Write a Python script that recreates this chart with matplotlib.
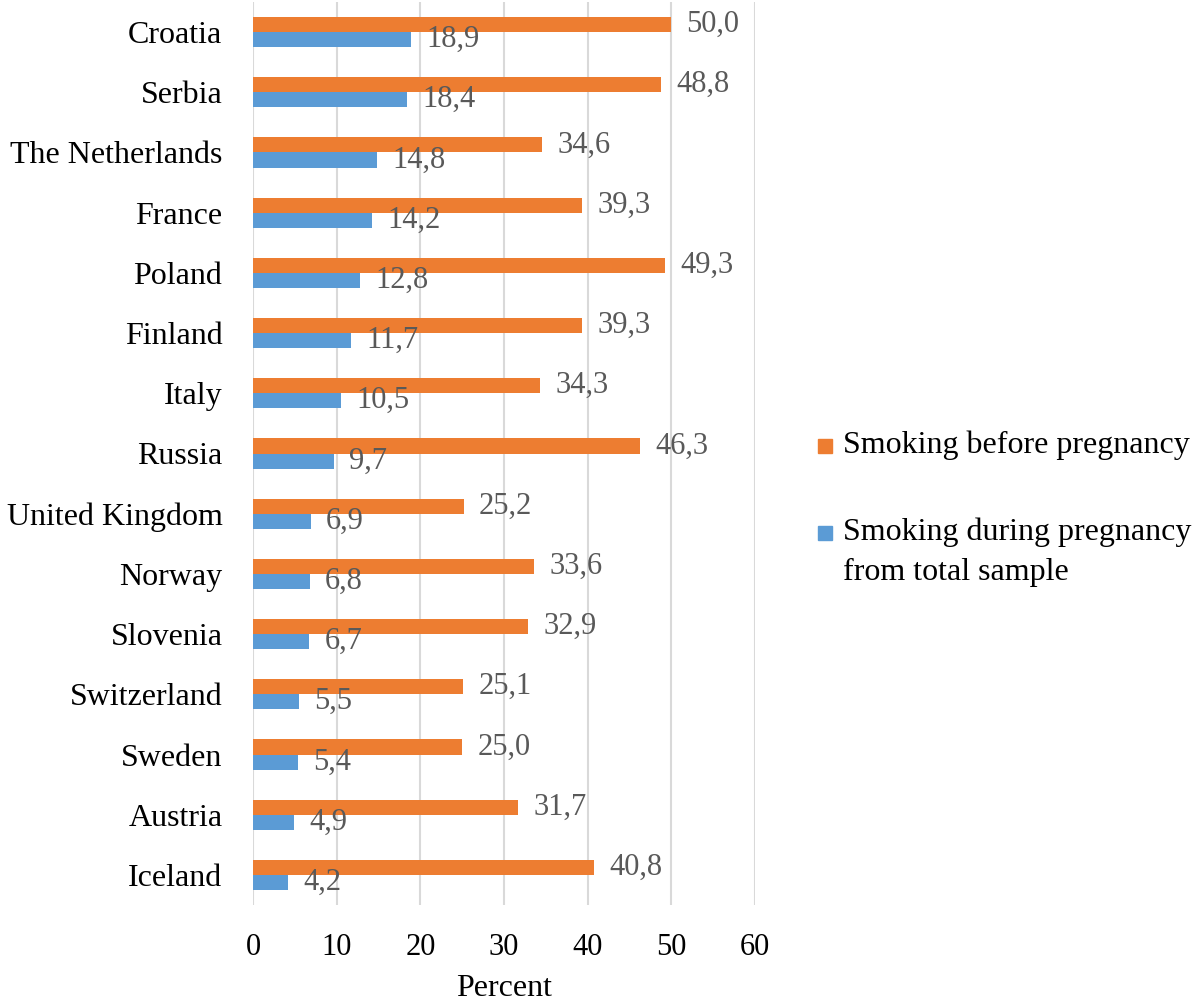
import matplotlib.pyplot as plt
import numpy as np
from matplotlib.patches import Rectangle

plt.rcParams['font.family'] = ['Liberation Serif', 'DejaVu Serif']

countries = ['Croatia', 'Serbia', 'The Netherlands', 'France', 'Poland',
             'Finland', 'Italy', 'Russia', 'United Kingdom', 'Norway',
             'Slovenia', 'Switzerland', 'Sweden', 'Austria', 'Iceland']
before = [50.0, 48.8, 34.6, 39.3, 49.3, 39.3, 34.3, 46.3, 25.2, 33.6,
          32.9, 25.1, 25.0, 31.7, 40.8]
during = [18.9, 18.4, 14.8, 14.2, 12.8, 11.7, 10.5, 9.7, 6.9, 6.8,
          6.7, 5.5, 5.4, 4.9, 4.2]
xticks = [0, 10, 20, 30, 40, 50, 60]

orange = '#ED7D31'
blue = '#5B9BD5'
label_grey = '#595959'

fig = plt.figure(figsize=(12, 10.02), dpi=100)
# axes: x 253..755 px, y 2..905 px
ax = fig.add_axes([253 / 1200, 1 - 905 / 1002, 502 / 1200, 903 / 1002])

y = np.arange(len(countries))
h = 0.25
ax.barh(y - h / 2, before, height=h, color=orange, zorder=3)
ax.barh(y + h / 2, during, height=h, color=blue, zorder=3)

for yi, v in zip(y, before):
    ax.annotate(f'{v:.1f}'.replace('.', ','), (v, yi - h / 2), xytext=(11, 0),
                textcoords='offset points', va='center', ha='left',
                fontsize=22, color=label_grey)
for yi, v in zip(y, during):
    ax.annotate(f'{v:.1f}'.replace('.', ','), (v, yi + h / 2), xytext=(11, 0),
                textcoords='offset points', va='center', ha='left',
                fontsize=22, color=label_grey)

ax.set_xlim(0, 60)
ax.set_ylim(len(countries) - 0.5, -0.5)
ax.set_xticks(xticks)
ax.set_xticklabels([str(t) for t in xticks], fontsize=22)
ax.set_yticks(y)
ax.set_yticklabels(countries, fontsize=23)
ax.tick_params(length=0)
ax.tick_params(axis='y', pad=22)
ax.tick_params(axis='x', pad=20)
ax.grid(axis='x', color='#D9D9D9', linewidth=1.5, zorder=0)
for s in ax.spines.values():
    s.set_visible(False)
ax.set_xlabel('Percent', fontsize=23, labelpad=9)

# legend drawn by hand (pixel positions)
def fx(px):
    return px / 1200

def fy(px):
    return 1 - px / 1002

sq = 14
fig.patches.append(Rectangle((fx(818), fy(453)), sq / 1200, sq / 1002,
                             transform=fig.transFigure, color=orange))
fig.text(fx(843), fy(453), 'Smoking before pregnancy', fontsize=23,
         va='baseline', ha='left')
fig.patches.append(Rectangle((fx(818), fy(540)), sq / 1200, sq / 1002,
                             transform=fig.transFigure, color=blue))
fig.text(fx(843), fy(540), 'Smoking during pregnancy', fontsize=23,
         va='baseline', ha='left')
fig.text(fx(843), fy(580), 'from total sample', fontsize=23,
         va='baseline', ha='left')

fig.savefig('out.png', dpi=100)
